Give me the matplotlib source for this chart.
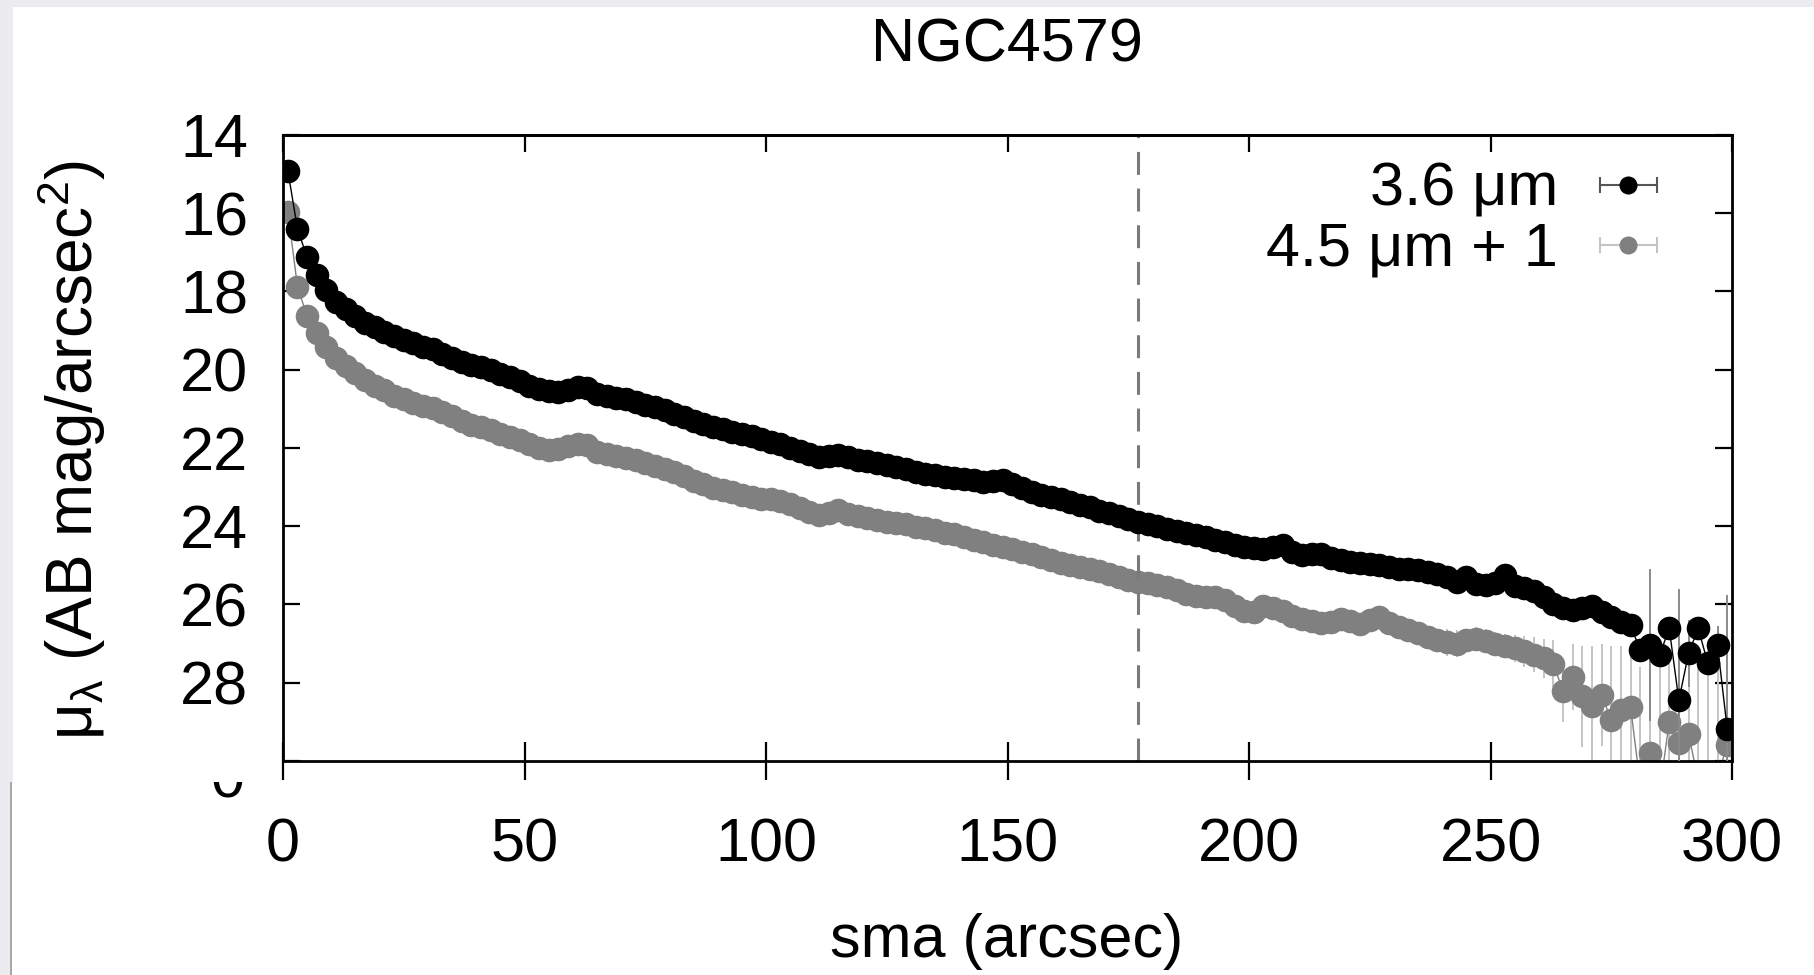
import numpy as np
import matplotlib
matplotlib.use("Agg")
import matplotlib.pyplot as plt
from matplotlib.lines import Line2D
from matplotlib.patches import Rectangle
from matplotlib.transforms import Bbox
from matplotlib.legend_handler import HandlerLine2D, HandlerTuple

plt.rcParams['font.family'] = ['Liberation Sans', 'DejaVu Sans']
plt.rcParams['mathtext.fontset'] = 'custom'
plt.rcParams['mathtext.rm'] = 'Liberation Sans'
plt.rcParams['mathtext.it'] = 'Liberation Sans:italic'

# semi-major axis grid (arcsec), one isophote every 2"
sma = np.arange(1, 300, 2)

# 3.6 um surface brightness (AB mag/arcsec^2)
mu_36 = [14.91, 16.40, 17.13, 17.58, 17.96, 18.26, 18.46, 18.63, 18.80, 18.92,
         19.04, 19.14, 19.24, 19.31, 19.41, 19.48, 19.59, 19.70, 19.79, 19.87,
         19.94, 20.01, 20.10, 20.19, 20.30, 20.42, 20.50, 20.55, 20.56, 20.52,
         20.45, 20.46, 20.61, 20.66, 20.71, 20.76, 20.82, 20.89, 20.96, 21.04,
         21.12, 21.20, 21.30, 21.39, 21.46, 21.52, 21.58, 21.64, 21.70, 21.77,
         21.84, 21.90, 21.99, 22.08, 22.16, 22.23, 22.20, 22.18, 22.24, 22.30,
         22.34, 22.39, 22.44, 22.49, 22.54, 22.62, 22.66, 22.70, 22.73, 22.76,
         22.79, 22.82, 22.86, 22.85, 22.83, 22.92, 23.01, 23.12, 23.19, 23.24,
         23.31, 23.38, 23.46, 23.52, 23.60, 23.67, 23.75, 23.82, 23.89, 23.94,
         23.99, 24.06, 24.11, 24.17, 24.23, 24.28, 24.34, 24.40, 24.47, 24.52,
         24.55, 24.57, 24.52, 24.49, 24.65, 24.74, 24.72, 24.70, 24.80, 24.87,
         24.92, 24.95, 24.97, 25.00, 25.04, 25.08, 25.10, 25.13, 25.17, 25.21,
         25.30, 25.42, 25.30, 25.48, 25.50, 25.44, 25.25, 25.52, 25.58, 25.66,
         25.81, 25.98, 26.08, 26.15, 26.08, 26.04, 26.20, 26.33, 26.45, 26.53,
         27.17, 27.04, 27.30, 26.61, 28.45, 27.25, 26.61, 27.50, 27.04, 29.17]
err_36 = [0.02] * 140 + [0.2, 1.95, 0.2, 0.2, 2.85, 0.85, 0.2, 0.3, 0.5, 3.4]

# 4.5 um surface brightness + 1 mag offset
mu_45 = [15.96, 17.88, 18.63, 19.07, 19.41, 19.69, 19.91, 20.09, 20.25, 20.41,
         20.53, 20.66, 20.76, 20.84, 20.92, 20.99, 21.08, 21.19, 21.30, 21.40,
         21.47, 21.55, 21.63, 21.71, 21.80, 21.90, 21.99, 22.04, 22.03, 21.96,
         21.89, 21.93, 22.10, 22.15, 22.20, 22.25, 22.31, 22.39, 22.46, 22.53,
         22.62, 22.72, 22.84, 22.93, 23.01, 23.07, 23.13, 23.20, 23.26, 23.31,
         23.30, 23.35, 23.44, 23.53, 23.63, 23.72, 23.66, 23.59, 23.68, 23.75,
         23.79, 23.84, 23.89, 23.91, 23.95, 24.01, 24.05, 24.10, 24.16, 24.21,
         24.28, 24.35, 24.41, 24.47, 24.53, 24.59, 24.65, 24.71, 24.79, 24.86,
         24.93, 25.00, 25.05, 25.10, 25.15, 25.22, 25.30, 25.37, 25.42, 25.45,
         25.49, 25.54, 25.62, 25.72, 25.78, 25.82, 25.80, 25.88, 26.04, 26.17,
         26.18, 26.05, 26.10, 26.16, 26.30, 26.38, 26.42, 26.48, 26.45, 26.36,
         26.42, 26.49, 26.40, 26.32, 26.48, 26.57, 26.65, 26.74, 26.83, 26.92,
         26.97, 27.00, 26.92, 26.87, 26.93, 27.00, 27.05, 27.12, 27.20, 27.28,
         27.38, 27.52, 28.20, 27.85, 28.35, 28.60, 28.32, 28.95, 28.70, 28.62,
         30.60, 29.80, 30.80, 29.00, 29.55, 29.30, 30.50, 30.70, 30.40, 29.60]
err_45 = [0.02] * 115 + [0.15, 0.15, 0.2, 0.25, 0.3, 0.35, 0.35, 0.3, 0.3, 0.3,
                         0.3, 0.3, 0.35, 0.4, 0.45, 0.5, 0.6, 0.8, 0.85, 1.3,
                         1.55, 1.3, 1.9, 1.65, 1.6, 3.0, 2.2, 3.2, 1.9, 1.8,
                         2.1, 3.0, 3.2, 2.8, 2.5]

r_limit = 177
labels = ['3.6 μm', '4.5 μm + 1']
FS = 44
MS = 17

fig = plt.figure(figsize=(18.14, 9.75), dpi=100)
ax = fig.add_axes([0.15601, 0.21949, 0.79879, 0.64205])

ax.errorbar(sma, mu_45, yerr=err_45, fmt='-o', color='#808080', ecolor='#c4c4c4',
            elinewidth=1.4, capsize=7, capthick=1.4, markersize=MS, mew=0,
            lw=1.0, zorder=2)
ax.axvline(r_limit, color='#7a7a7a', lw=2.2, dashes=(7.5, 4.5), zorder=2.5)
ax.errorbar(sma, mu_36, yerr=err_36, fmt='-o', color='black', ecolor='#8a8a8a',
            elinewidth=1.4, capsize=7, capthick=1.4, markersize=MS, mew=0,
            lw=1.0, zorder=3)

ax.set_xlim(0, 300)
ax.set_ylim(30, 14)
ax.set_xticks(range(0, 301, 50))
ax.set_yticks(range(14, 31, 2))
ax.set_yticklabels([str(v) for v in range(14, 29, 2)] + [''])

for s in ax.spines.values():
    s.set_linewidth(2.0)
ax.tick_params(axis='x', direction='inout', length=27, width=1.6, pad=27,
               labelsize=FS, top=False)
ax.tick_params(axis='y', direction='in', length=12, width=1.6, pad=25,
               labelsize=FS, right=True)
sec = ax.secondary_xaxis('top')
sec.set_xticks(range(0, 301, 50))
sec.tick_params(direction='in', length=12, width=1.6, labeltop=False)
sec.spines['top'].set_linewidth(2.0)

# gnuplot style key: text on the left, |-o-| sample on the right
bar_36 = Line2D([], [], color='#555555', lw=1.5, marker='|', markersize=11, mew=1.5)
dot_36 = Line2D([], [], color='black', marker='o', markersize=13, mew=0, ls='none')
bar_45 = Line2D([], [], color='#c4c4c4', lw=1.5, marker='|', markersize=11, mew=1.5)
dot_45 = Line2D([], [], color='#808080', marker='o', markersize=13, mew=0, ls='none')
hmap = {bar_36: HandlerLine2D(numpoints=2, marker_pad=0),
        bar_45: HandlerLine2D(numpoints=2, marker_pad=0),
        tuple: HandlerTuple(ndivide=1)}
ax.legend([(bar_36, dot_36), (bar_45, dot_45)], labels, handler_map=hmap,
          loc='upper right', bbox_to_anchor=(0.948, 0.957), borderaxespad=0,
          borderpad=0, frameon=False, markerfirst=False, fontsize=FS,
          handlelength=0.93, handletextpad=0.68, labelspacing=0.05)

fig.text(1007 / 1814, 1 - 46 / 975, 'NGC4579', ha='center', va='center', fontsize=FS)
fig.text(1007 / 1814, 1 - 941 / 975, 'sma (arcsec)', ha='center', va='center', fontsize=FS)
fig.text(72 / 1814, 1 - 450 / 975, 'μ$_\\mathrm{λ}$ (AB mag/arcsec$^\\mathrm{2}$)',
         rotation=90, ha='center', va='center', fontsize=46)

# screenshot border strips
border = '#ebebf0'
fig.add_artist(Rectangle((0, 1 - 7 / 975), 1, 7 / 975, transform=fig.transFigure,
                         color=border, lw=0, zorder=0))
fig.add_artist(Rectangle((0, 1 - 782 / 975), 13 / 1814, 782 / 975,
                         transform=fig.transFigure, color=border, lw=0, zorder=0))
fig.add_artist(Rectangle((0, 0), 10 / 1814, 193 / 975, transform=fig.transFigure,
                         color=border, lw=0, zorder=0))
fig.add_artist(Rectangle((10 / 1814, 0), 2 / 1814, 193 / 975, transform=fig.transFigure,
                         color='#a8a8a8', lw=0, zorder=0))

# leftover bottom of the hidden "30" label under the seam
t = fig.text(228 / 1814, 1 - 798 / 975, '0', ha='center', va='baseline', fontsize=FS)
t.set_clip_on(True)
t.set_clip_box(Bbox.from_extents(0, 0, 1814, 193))

fig.savefig('out.png', dpi=100, facecolor='white')
